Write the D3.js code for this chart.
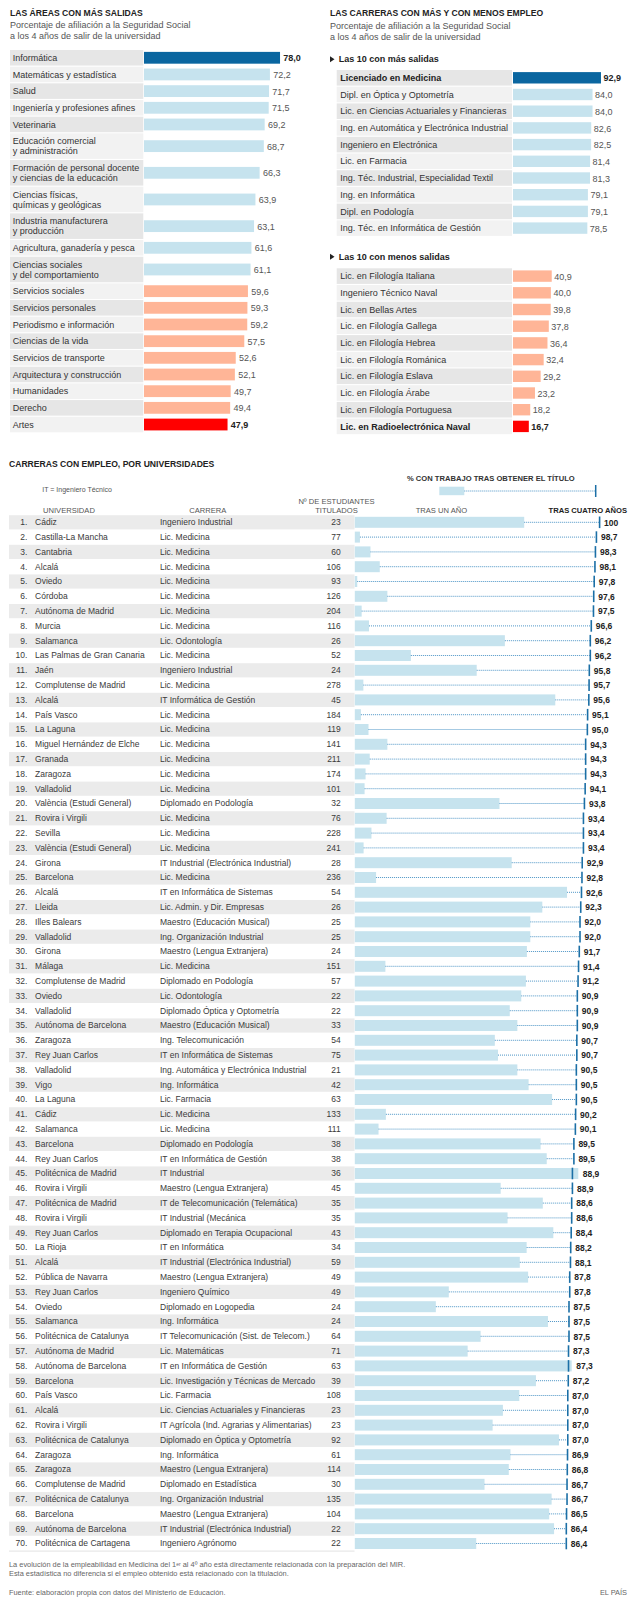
<!DOCTYPE html>
<html><head><meta charset="utf-8">
<script src="https://cdn.jsdelivr.net/npm/d3@7"></script>
<style>
body{margin:0;background:#fff;}
svg{display:block;font-family:"Liberation Sans",Arial,sans-serif;}
</style></head><body>
<svg id="c" width="632" height="1600"></svg>
<script>
// ---------- DATA ----------
const areaLabels = ["Informática","Matemáticas y estadística","Salud","Ingeniería y profesiones afines","Veterinaria","Educación comercial\ny administración","Formación de personal docente\ny ciencias de la educación","Ciencias físicas,\nquímicas y geológicas","Industria manufacturera\ny producción","Agricultura, ganadería y pesca","Ciencias sociales\ny del comportamiento","Servicios sociales","Servicios personales","Periodismo e información","Ciencias de la vida","Servicios de transporte","Arquitectura y construcción","Humanidades","Derecho","Artes"];
const areaValues = [78.0,72.2,71.7,71.5,69.2,68.7,66.3,63.9,63.1,61.6,61.1,59.6,59.3,59.2,57.5,52.6,52.1,49.7,49.4,47.9];

const topLabels = ["Licenciado en Medicina","Dipl. en Óptica y Optometría","Lic. en Ciencias Actuariales y Financieras","Ing. en Automática y Electrónica Industrial","Ingeniero en Electrónica","Lic. en Farmacia","Ing. Téc. Industrial, Especialidad Textil","Ing. en Informática","Dipl. en Podología","Ing. Téc. en Informática de Gestión"];
const topValues = [92.9,84.0,84.0,82.6,82.5,81.4,81.3,79.1,79.1,78.5];

const bottomLabels = ["Lic. en Filología Italiana","Ingeniero Técnico Naval","Lic. en Bellas Artes","Lic. en Filología Gallega","Lic. en Filología Hebrea","Lic. en Filología Románica","Lic. en Filología Eslava","Lic. en Filología Árabe","Lic. en Filología Portuguesa","Lic. en Radioelectrónica Naval"];
const bottomValues = [40.9,40.0,39.8,37.8,36.4,32.4,29.2,23.2,18.2,16.7];

const universities = ["Cádiz","Castilla-La Mancha","Cantabria","Alcalá","Oviedo","Córdoba","Autónoma de Madrid","Murcia","Salamanca","Las Palmas de Gran Canaria","Jaén","Complutense de Madrid","Alcalá","País Vasco","La Laguna","Miguel Hernández de Elche","Granada","Zaragoza","Valladolid","València (Estudi General)","Rovira i Virgili","Sevilla","València (Estudi General)","Girona","Barcelona","Alcalá","Lleida","Illes Balears","Valladolid","Girona","Málaga","Complutense de Madrid","Oviedo","Valladolid","Autónoma de Barcelona","Zaragoza","Rey Juan Carlos","Valladolid","Vigo","La Laguna","Cádiz","Salamanca","Barcelona","Rey Juan Carlos","Politécnica de Madrid","Rovira i Virgili","Politécnica de Madrid","Rovira i Virgili","Rey Juan Carlos","La Rioja","Alcalá","Pública de Navarra","Rey Juan Carlos","Oviedo","Salamanca","Politécnica de Catalunya","Autónoma de Madrid","Autónoma de Barcelona","Barcelona","País Vasco","Alcalá","Rovira i Virgili","Politécnica de Catalunya","Zaragoza","Zaragoza","Complutense de Madrid","Politécnica de Catalunya","Barcelona","Autónoma de Barcelona","Politécnica de Cartagena"];
const careers = ["Ingeniero Industrial","Lic. Medicina","Lic. Medicina","Lic. Medicina","Lic. Medicina","Lic. Medicina","Lic. Medicina","Lic. Medicina","Lic. Odontología","Lic. Medicina","Ingeniero Industrial","Lic. Medicina","IT Informática de Gestión","Lic. Medicina","Lic. Medicina","Lic. Medicina","Lic. Medicina","Lic. Medicina","Lic. Medicina","Diplomado en Podología","Lic. Medicina","Lic. Medicina","Lic. Medicina","IT Industrial (Electrónica Industrial)","Lic. Medicina","IT en Informática de Sistemas","Lic. Admin. y Dir. Empresas","Maestro (Educación Musical)","Ing. Organización Industrial","Maestro (Lengua Extranjera)","Lic. Medicina","Diplomado en Podología","Lic. Odontología","Diplomado Óptica y Optometría","Maestro (Educación Musical)","Ing. Telecomunicación","IT en Informática de Sistemas","Ing. Automática y Electrónica Industrial","Ing. Informática","Lic. Farmacia","Lic. Medicina","Lic. Medicina","Diplomado en Podología","IT en Informática de Gestión","IT Industrial","Maestro (Lengua Extranjera)","IT de Telecomunicación (Telemática)","IT Industrial (Mecánica","Diplomado en Terapia Ocupacional","IT en Informática","IT Industrial (Electrónica Industrial)","Maestro (Lengua Extranjera)","Ingeniero Químico","Diplomado en Logopedia","Ing. Informática","IT Telecomunicación (Sist. de Telecom.)","Lic. Matemáticas","IT en Informática de Gestión","Lic. Investigación y Técnicas de Mercado","Lic. Farmacia","Lic. Ciencias Actuariales y Financieras","IT Agrícola (Ind. Agrarias y Alimentarias)","Diplomado en Óptica y Optometría","Ing. Informática","Maestro (Lengua Extranjera)","Diplomado en Estadística","Ing. Organización Industrial","Maestro (Lengua Extranjera)","IT Industrial (Electrónica Industrial)","Ingeniero Agrónomo"];
const graduates = [23,77,60,106,93,126,204,116,26,52,24,278,45,184,119,141,211,174,101,32,76,228,241,28,236,54,26,25,25,24,151,57,22,22,33,54,75,21,42,63,133,111,38,38,36,45,35,35,43,34,59,49,49,24,24,64,71,63,39,108,23,23,92,61,114,30,135,104,22,22];
const afterOneYear = [69.2,2.1,6.4,10.2,1.0,13.3,2.8,5.8,61.3,22.9,49.8,3.5,81.9,2.5,5.6,13.3,6.1,4.4,4.0,59.1,13.0,6.8,3.6,64.1,8.7,86.7,76.6,71.7,71.7,70.3,12.5,69.9,68.0,63.3,66.4,57.2,58.5,66.4,71.0,80.6,12.7,9.7,75.9,78.4,91.3,59.6,76.8,62.4,81.1,70.2,67.4,70.8,38.4,33.1,78.9,51.4,46.1,88.6,74.0,67.2,60.5,56.3,83.4,63.6,62.9,53.0,80.4,79.4,81.4,49.6];
const afterFourYears = [100,98.7,98.3,98.1,97.8,97.6,97.5,96.6,96.2,96.2,95.8,95.7,95.6,95.1,95.0,94.3,94.3,94.3,94.1,93.8,93.4,93.4,93.4,92.9,92.8,92.6,92.3,92.0,92.0,91.7,91.4,91.2,90.9,90.9,90.9,90.7,90.7,90.5,90.5,90.5,90.2,90.1,89.5,89.5,88.9,88.9,88.6,88.6,88.4,88.2,88.1,87.8,87.8,87.5,87.5,87.5,87.3,87.3,87.2,87.0,87.0,87.0,87.0,86.9,86.8,86.7,86.7,86.5,86.4,86.4];

// ---------- STYLE ----------
const C = {dark:"#0a66a0", light:"#c6e3ee", salmon:"#ffb597", red:"#ff0000",
  bg1:"#e6e6e6", bg2:"#f2f2f2", text:"#333", grey:"#555", marker:"#1b6fa6", dot:"#4d95c6"};
const fmt = v => v === 100 ? "100" : v.toFixed(1).replace(".", ",");
const svg = d3.select("#c");
svg.append("rect").attr("width",632).attr("height",1600).attr("fill","#fff");

function txt(g, x, y, s, o = {}) {
  const t = g.append("text").attr("x", x).attr("y", y).attr("dy", ".35em")
    .attr("font-size", o.size || 9).attr("fill", o.fill || C.text)
    .attr("font-weight", o.bold ? "bold" : null)
    .attr("text-anchor", o.anchor || "start").text(s);
  return t;
}

// ---------- PANEL 1 ----------
(function () {
  const g = svg.append("g");
  txt(g, 10, 12.5, "LAS ÁREAS CON MÁS SALIDAS", {size: 8.6, bold: true, fill: "#222"});
  txt(g, 10, 25, "Porcentaje de afiliación a la Seguridad Social", {size: 9, fill: C.grey});
  txt(g, 10, 36, "a los 4 años de salir de la universidad", {size: 9, fill: C.grey});
  const x = d3.scaleLinear().domain([0, 100]).range([144, 144 + 174.4]);
  const maxV = d3.max(areaValues), minV = d3.min(areaValues);
  let y = 50;
  areaLabels.forEach((lab, i) => {
    const lines = lab.split("\n");
    const pitch = lines.length > 1 ? 26.67 : 16.67;
    const h = pitch - 1.1, cy = y + h / 2;
    const v = areaValues[i];
    g.append("rect").attr("x", 10).attr("y", y).attr("width", 133.3).attr("height", h)
      .attr("fill", i % 2 === 0 ? C.bg1 : C.bg2);
    lines.forEach((l, k) => txt(g, 12.7, cy + (k - (lines.length - 1) / 2) * 10, l, {size: 9}));
    const col = v === maxV ? C.dark : v === minV ? C.red : v >= 60 ? C.light : C.salmon;
    g.append("rect").attr("x", x(0)).attr("y", cy - 5.9).attr("width", x(v) - x(0)).attr("height", 11.8).attr("fill", col);
    const bold = v === maxV || v === minV;
    txt(g, x(v) + 3.3, cy + 0.5, fmt(v), {size: 9, bold, fill: bold ? "#222" : C.grey});
    y += pitch;
  });
})();

// ---------- PANEL 2 ----------
(function () {
  const g = svg.append("g");
  txt(g, 330, 12.5, "LAS CARRERAS CON MÁS Y CON MENOS EMPLEO", {size: 8.6, bold: true, fill: "#222"});
  txt(g, 330, 26, "Porcentaje de afiliación a la Seguridad Social", {size: 9, fill: C.grey});
  txt(g, 330, 36.7, "a los 4 años de salir de la universidad", {size: 9, fill: C.grey});
  const x = d3.scaleLinear().domain([0, 100]).range([513, 513 + 94.7]);
  function block(heading, hy, labels, values, y0, hi) {
    g.append("path").attr("d", `M330,${hy - 3}L334.5,${hy}L330,${hy + 3}Z`).attr("fill", "#222");
    txt(g, 338.7, hy, heading, {size: 9, bold: true, fill: "#222"});
    labels.forEach((lab, i) => {
      const y = y0 + i * 16.7, h = 15.6, cy = y + h / 2, v = values[i];
      g.append("rect").attr("x", 336.7).attr("y", y).attr("width", 175.3).attr("height", h)
        .attr("fill", i % 2 === 0 ? C.bg1 : C.bg2);
      const special = hi === "top" ? i === 0 : i === labels.length - 1;
      txt(g, 340.3, cy, lab, {size: 9, bold: special, fill: special ? "#222" : C.text});
      const col = special ? (hi === "top" ? C.dark : C.red) : (hi === "top" ? C.light : C.salmon);
      g.append("rect").attr("x", x(0)).attr("y", cy - 5.7).attr("width", x(v) - x(0)).attr("height", 11.4).attr("fill", col);
      txt(g, x(v) + 2.5, cy + 0.5, fmt(v), {size: 9, bold: special, fill: special ? "#222" : C.grey});
    });
  }
  block("Las 10 con más salidas", 59.3, topLabels, topValues, 70, "top");
  block("Las 10 con menos salidas", 256.7, bottomLabels, bottomValues, 268.3, "bottom");
})();

// ---------- TABLE ----------
(function () {
  const g = svg.append("g");
  txt(g, 9, 464.3, "CARRERAS CON EMPLEO, POR UNIVERSIDADES", {size: 8.6, bold: true, fill: "#222"});
  txt(g, 407, 478.3, "% CON TRABAJO TRAS OBTENER EL TÍTULO", {size: 7.6, bold: true, fill: "#333"});
  txt(g, 42.3, 489.3, "IT = Ingeniero Técnico", {size: 7, fill: C.grey});
  const x = d3.scaleLinear().domain([0, 100]).range([354.8, 599.6]);
  // legend
  g.append("rect").attr("x", 439.3).attr("y", 486.7).attr("width", 25).attr("height", 8.5).attr("fill", C.light);
  g.append("line").attr("x1", 464.3).attr("x2", 595.7).attr("y1", 491).attr("y2", 491)
    .attr("stroke", C.dot).attr("stroke-width", 1).attr("stroke-dasharray", "1,1");
  g.append("line").attr("x1", 595.7).attr("x2", 595.7).attr("y1", 485).attr("y2", 497)
    .attr("stroke", C.marker).attr("stroke-width", 1.5);
  // headers
  txt(g, 336.5, 501.7, "Nº DE ESTUDIANTES", {size: 7.6, fill: C.grey, anchor: "middle"});
  txt(g, 336.5, 510, "TITULADOS", {size: 7.6, fill: C.grey, anchor: "middle"});
  txt(g, 43, 510, "UNIVERSIDAD", {size: 7.6, fill: C.grey});
  txt(g, 207.8, 510, "CARRERA", {size: 7.6, fill: C.grey, anchor: "middle"});
  txt(g, 441.4, 510, "TRAS UN AÑO", {size: 7.6, fill: C.grey, anchor: "middle"});
  txt(g, 627, 510, "TRAS CUATRO AÑOS", {size: 7.6, bold: true, fill: "#222", anchor: "end"});

  const pitch = 14.8, c0 = 522.3;
  universities.forEach((u, i) => {
    const cy = c0 + i * pitch;
    if (i % 2 === 0) g.append("rect").attr("x", 9).attr("y", cy - 7.1).attr("width", 345.5).attr("height", 14.2).attr("fill", "#ebebeb");
    txt(g, 27.4, cy, (i + 1) + ".", {size: 8.5, anchor: "end", fill: "#3a3a3a"});
    txt(g, 35.1, cy, u, {size: 8.5, fill: "#3a3a3a"});
    txt(g, 160, cy, careers[i], {size: 8.5, fill: "#3a3a3a"});
    txt(g, 340.7, cy, graduates[i], {size: 8.5, anchor: "end", fill: "#3a3a3a"});
    const v1 = afterOneYear[i], v4 = afterFourYears[i];
    g.append("rect").attr("x", x(0)).attr("y", cy - 5.5).attr("width", x(v1) - x(0)).attr("height", 11).attr("fill", C.light);
    if (x(v4) > x(v1) + 1)
      g.append("line").attr("x1", x(v1)).attr("x2", x(v4)).attr("y1", cy).attr("y2", cy)
        .attr("stroke", C.dot).attr("stroke-width", 1).attr("stroke-dasharray", "1,1");
    g.append("line").attr("x1", x(v4)).attr("x2", x(v4)).attr("y1", cy - 5.8).attr("y2", cy + 5.8)
      .attr("stroke", C.marker).attr("stroke-width", 1.6);
    txt(g, Math.max(x(v4), x(v1)) + 4.5, cy + 0.3, fmt(v4), {size: 8.5, bold: true, fill: "#222"});
  });
  g.append("line").attr("x1", 9).attr("x2", 354.5).attr("y1", c0 + 69 * pitch + 7.6).attr("y2", c0 + 69 * pitch + 7.6)
    .attr("stroke", "#e2e2e2").attr("stroke-width", 1);

  // footer
  const n1 = g.append("text").attr("x", 9).attr("y", 1564.3).attr("dy", ".35em").attr("font-size", 7.4).attr("fill", "#666");
  n1.append("tspan").text("La evolución de la empleabilidad en Medicina del 1");
  n1.append("tspan").attr("font-size", 5).attr("dy", "-0.25em").text("er");
  n1.append("tspan").attr("dy", "0.25em").text(" al 4º año está directamente relacionada con la preparación del MIR.");
  txt(g, 9, 1573.3, "Esta estadística no diferencia si el empleo obtenido está relacionado con la titulación.", {size: 7.4, fill: "#666"});
  txt(g, 9, 1592.3, "Fuente: elaboración propia con datos del Ministerio de Educación.", {size: 7.4, fill: "#666"});
  txt(g, 627, 1592.3, "EL PAÍS", {size: 7.4, fill: "#666", anchor: "end"});
})();
</script>
</body></html>
